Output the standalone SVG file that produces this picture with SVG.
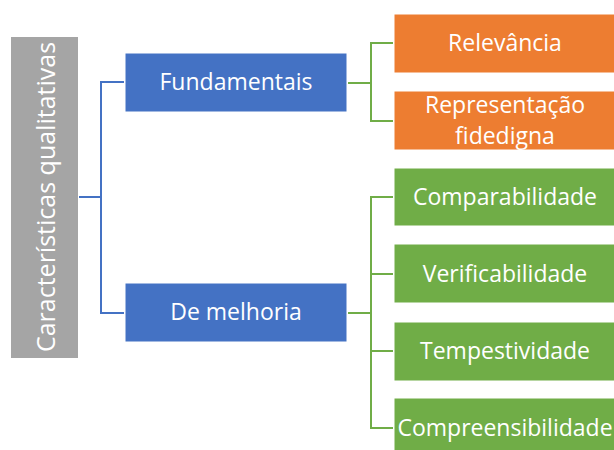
<svg xmlns="http://www.w3.org/2000/svg" width="614" height="450" viewBox="0 0 614 450">
<style>
.box{stroke:#ffffff;stroke-width:1}
.t{font-family:"Open Sans","Noto Sans",sans-serif;font-size:23px;fill:#ffffff;text-anchor:middle;dominant-baseline:central}
.cb{fill:none;stroke:#4472C4;stroke-width:2}
.cg{fill:none;stroke:#70AD47;stroke-width:2}
</style>
<rect width="614" height="450" fill="#ffffff"/>
<g id="connectors">
<path class="cb" d="M79,197 H101 M124,82 H101 V313 H124"/>
<path class="cg" d="M348,83 H371 M393,43 H371 V121 H393"/>
<path class="cg" d="M348,313 H371 M393,197 H371 V428 H393 M371,274 H393 M371,351 H393"/>
</g>
<g id="root">
<rect x="11" y="37" width="67" height="321" fill="#A5A5A5"/>
<text class="t" style="font-size:25px" transform="translate(45,197) rotate(-90)">Características qualitativas</text>
</g>
<g id="fundamentais">
<rect class="box" x="125" y="53" width="222" height="59" fill="#4472C4"/>
<text class="t" x="236" y="81">Fundamentais</text>
</g>
<g id="melhoria">
<rect class="box" x="125" y="283" width="222" height="59" fill="#4472C4"/>
<text class="t" x="236" y="311">De melhoria</text>
</g>
<g id="relevancia">
<rect class="box" x="394" y="14" width="222" height="59" fill="#ED7D31"/>
<text class="t" x="505" y="42">Relevância</text>
</g>
<g id="representacao">
<rect class="box" x="394" y="91" width="222" height="59" fill="#ED7D31"/>
<text class="t" x="505" y="104">Representação</text>
<text class="t" x="505" y="135">fidedigna</text>
</g>
<g id="comparabilidade">
<rect class="box" x="394" y="168" width="222" height="58" fill="#70AD47"/>
<text class="t" x="505" y="196">Comparabilidade</text>
</g>
<g id="verificabilidade">
<rect class="box" x="394" y="244" width="222" height="59" fill="#70AD47"/>
<text class="t" x="505" y="273">Verificabilidade</text>
</g>
<g id="tempestividade">
<rect class="box" x="394" y="322" width="222" height="59" fill="#70AD47"/>
<text class="t" x="505" y="350">Tempestividade</text>
</g>
<g id="compreensibilidade">
<rect class="box" x="394" y="398" width="222" height="59" fill="#70AD47"/>
<text class="t" x="505" y="427">Compreensibilidade</text>
</g>
</svg>
